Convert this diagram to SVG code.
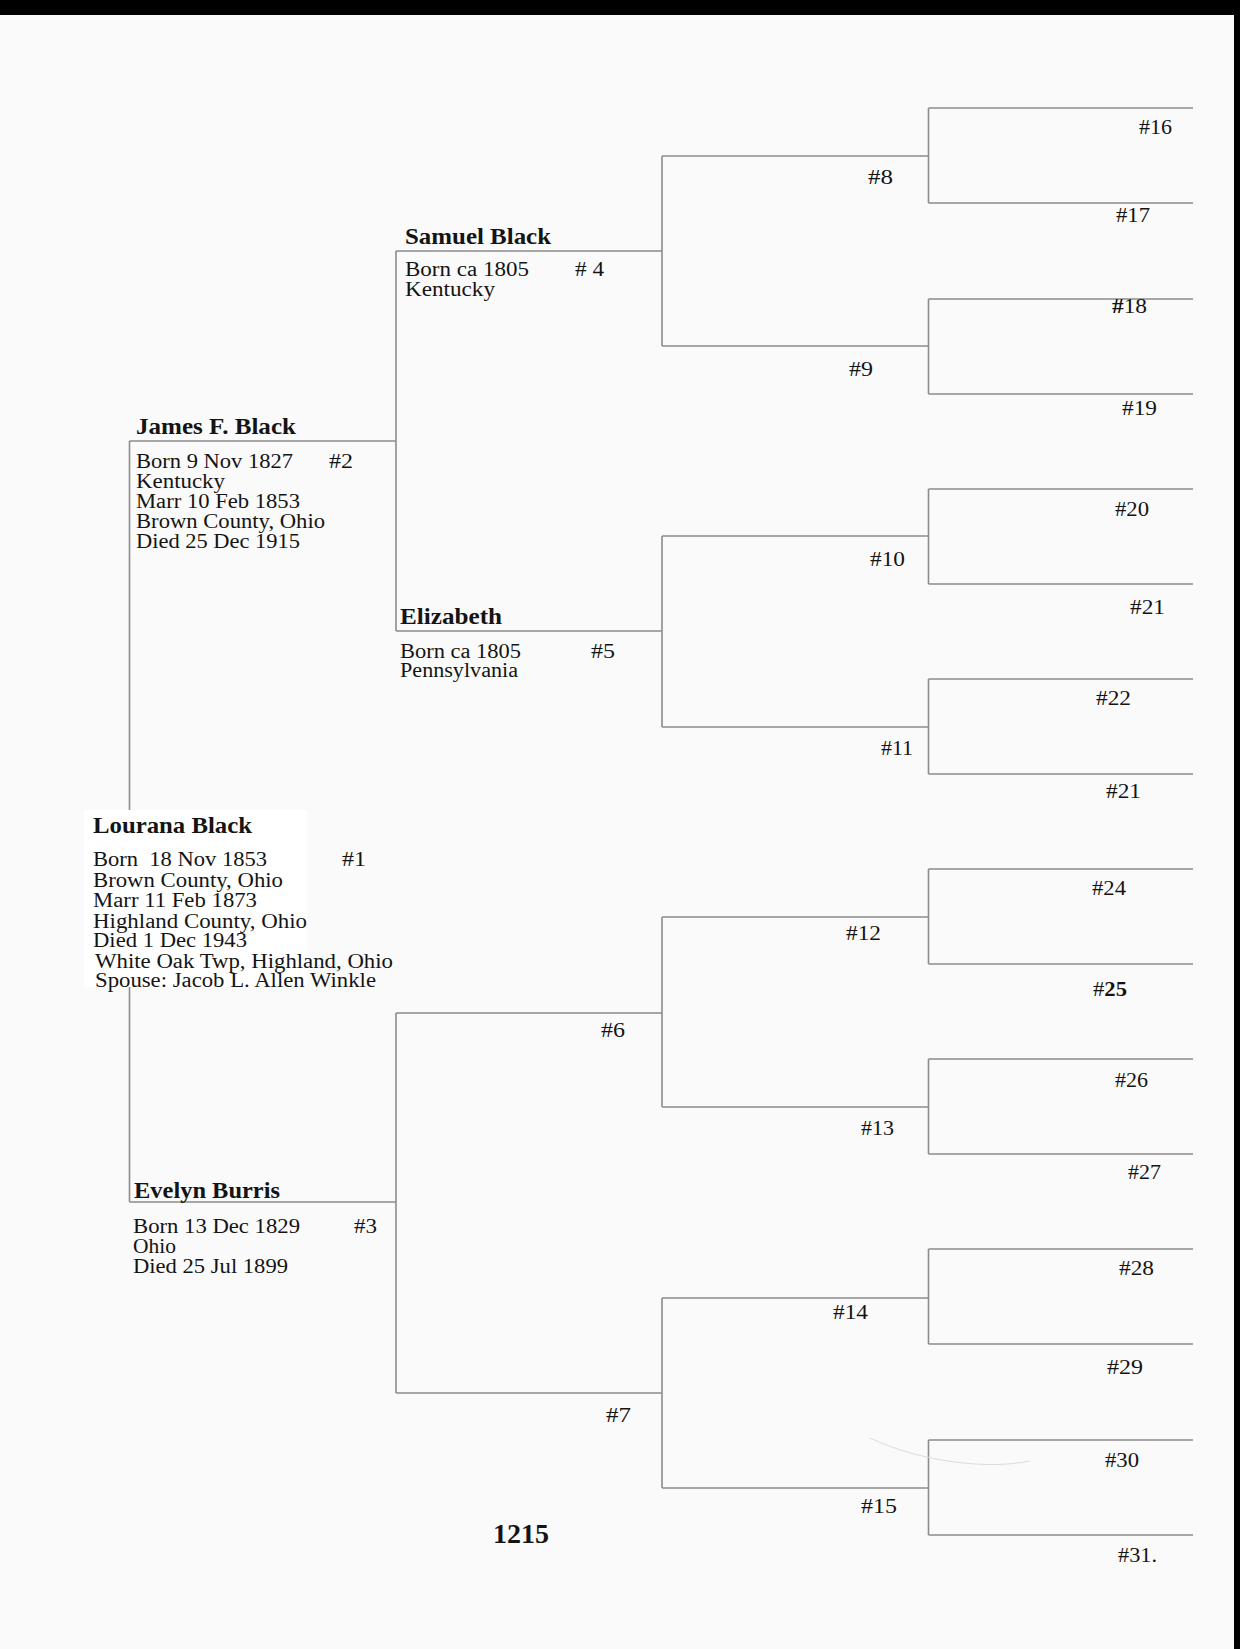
<svg xmlns="http://www.w3.org/2000/svg" width="1240" height="1649" viewBox="0 0 1240 1649">
<style>
text{font-family:"Liberation Serif","Times New Roman",serif;fill:#141414}
.nm{font-weight:bold;font-size:23px}
.bd{font-size:20px}
.lb{font-size:20px}
.ln{stroke:#8c8c8c;stroke-width:1.6;fill:none}
</style>
<rect x="0" y="0" width="1240" height="1649" fill="#fafafa"/>
<g id="connectors" class="ln">
<path d="M129.5,441V1202M129.5,441H396M129.5,1202H396"/>
<path d="M396,251V631M396,1013V1393M396,251H662M396,631H662M396,1013H662M396,1393H662"/>
<path d="M662,156V346M662,536V727M662,917V1107M662,1298V1488"/>
<path d="M662,156H928.5M662,346H928.5M662,536H928.5M662,727H928.5M662,917H928.5M662,1107H928.5M662,1298H928.5M662,1488H928.5"/>
<path d="M928.5,108V203M928.5,299V394M928.5,489V584M928.5,679V774M928.5,869V964M928.5,1059V1154M928.5,1249V1344M928.5,1440V1535"/>
<path d="M928.5,108H1193M928.5,203H1193M928.5,299H1193M928.5,394H1193M928.5,489H1193M928.5,584H1193M928.5,679H1193M928.5,774H1193M928.5,869H1193M928.5,964H1193M928.5,1059H1193M928.5,1154H1193M928.5,1249H1193M928.5,1344H1193M928.5,1440H1193M928.5,1535H1193"/>
</g>
<path d="M870,1438C895,1450 925,1458 955,1462S1010,1465 1030,1461" stroke="#dcdcdc" stroke-width="1" fill="none"/>
<g id="p1">
<rect x="84" y="810" width="223" height="177" fill="#ffffff"/>
<text class="nm" x="93" y="833" textLength="159" lengthAdjust="spacingAndGlyphs">Lourana Black</text>
<text class="bd" x="93" y="866" textLength="174" lengthAdjust="spacingAndGlyphs" xml:space="preserve">Born  18 Nov 1853</text>
<text class="lb" x="342" y="866" textLength="24" lengthAdjust="spacingAndGlyphs">#1</text>
<text class="bd" x="93" y="887" textLength="190" lengthAdjust="spacingAndGlyphs">Brown County, Ohio</text>
<text class="bd" x="93" y="907" textLength="164" lengthAdjust="spacingAndGlyphs">Marr 11 Feb 1873</text>
<text class="bd" x="93" y="928" textLength="214" lengthAdjust="spacingAndGlyphs">Highland County, Ohio</text>
<text class="bd" x="93" y="947" textLength="154" lengthAdjust="spacingAndGlyphs">Died 1 Dec 1943</text>
<text class="bd" x="95" y="968" textLength="298" lengthAdjust="spacingAndGlyphs">White Oak Twp, Highland, Ohio</text>
<text class="bd" x="95" y="987" textLength="281" lengthAdjust="spacingAndGlyphs">Spouse: Jacob L. Allen Winkle</text>
</g>
<g id="p2">
<text class="nm" x="136" y="434" textLength="160" lengthAdjust="spacingAndGlyphs">James F. Black</text>
<text class="bd" x="136" y="468" textLength="157" lengthAdjust="spacingAndGlyphs">Born 9 Nov 1827</text>
<text class="lb" x="329" y="468" textLength="24" lengthAdjust="spacingAndGlyphs">#2</text>
<text class="bd" x="136" y="488" textLength="89" lengthAdjust="spacingAndGlyphs">Kentucky</text>
<text class="bd" x="136" y="508" textLength="164" lengthAdjust="spacingAndGlyphs">Marr 10 Feb 1853</text>
<text class="bd" x="136" y="528" textLength="189" lengthAdjust="spacingAndGlyphs">Brown County, Ohio</text>
<text class="bd" x="136" y="548" textLength="164" lengthAdjust="spacingAndGlyphs">Died 25 Dec 1915</text>
</g>
<g id="p3">
<text class="nm" x="134" y="1198" textLength="146" lengthAdjust="spacingAndGlyphs">Evelyn Burris</text>
<text class="bd" x="133" y="1233" textLength="167" lengthAdjust="spacingAndGlyphs">Born 13 Dec 1829</text>
<text class="lb" x="354" y="1233" textLength="23" lengthAdjust="spacingAndGlyphs">#3</text>
<text class="bd" x="133" y="1253" textLength="43" lengthAdjust="spacingAndGlyphs">Ohio</text>
<text class="bd" x="133" y="1273" textLength="155" lengthAdjust="spacingAndGlyphs">Died 25 Jul 1899</text>
</g>
<g id="p4">
<text class="nm" x="405" y="244" textLength="146" lengthAdjust="spacingAndGlyphs">Samuel Black</text>
<text class="bd" x="405" y="276" textLength="124" lengthAdjust="spacingAndGlyphs">Born ca 1805</text>
<text class="lb" x="575" y="276" textLength="29" lengthAdjust="spacingAndGlyphs"># 4</text>
<text class="bd" x="405" y="296" textLength="90" lengthAdjust="spacingAndGlyphs">Kentucky</text>
</g>
<g id="p5">
<text class="nm" x="400" y="624" textLength="102" lengthAdjust="spacingAndGlyphs">Elizabeth</text>
<text class="bd" x="400" y="658" textLength="121" lengthAdjust="spacingAndGlyphs">Born ca 1805</text>
<text class="lb" x="591" y="658" textLength="24" lengthAdjust="spacingAndGlyphs">#5</text>
<text class="bd" x="400" y="677" textLength="118" lengthAdjust="spacingAndGlyphs">Pennsylvania</text>
</g>
<g id="p6"><text class="lb" x="601" y="1037" textLength="24" lengthAdjust="spacingAndGlyphs">#6</text></g>
<g id="p7"><text class="lb" x="606" y="1422" textLength="25" lengthAdjust="spacingAndGlyphs">#7</text></g>
<g id="p8"><text class="lb" x="868" y="184" textLength="25" lengthAdjust="spacingAndGlyphs">#8</text></g>
<g id="p9"><text class="lb" x="849" y="376" textLength="24" lengthAdjust="spacingAndGlyphs">#9</text></g>
<g id="p10"><text class="lb" x="870" y="566" textLength="35" lengthAdjust="spacingAndGlyphs">#10</text></g>
<g id="p11"><text class="lb" x="881" y="755" textLength="32" lengthAdjust="spacingAndGlyphs">#11</text></g>
<g id="p12"><text class="lb" x="846" y="940" textLength="35" lengthAdjust="spacingAndGlyphs">#12</text></g>
<g id="p13"><text class="lb" x="861" y="1135" textLength="33" lengthAdjust="spacingAndGlyphs">#13</text></g>
<g id="p14"><text class="lb" x="833" y="1319" textLength="35" lengthAdjust="spacingAndGlyphs">#14</text></g>
<g id="p15"><text class="lb" x="861" y="1513" textLength="36" lengthAdjust="spacingAndGlyphs">#15</text></g>
<g id="p16"><text class="lb" x="1139" y="134" textLength="33" lengthAdjust="spacingAndGlyphs">#16</text></g>
<g id="p17"><text class="lb" x="1116" y="222" textLength="34" lengthAdjust="spacingAndGlyphs">#17</text></g>
<g id="p18"><text class="lb" x="1112" y="313" textLength="35" lengthAdjust="spacingAndGlyphs"><tspan font-weight="bold">#</tspan>18</text></g>
<g id="p19"><text class="lb" x="1122" y="415" textLength="35" lengthAdjust="spacingAndGlyphs">#19</text></g>
<g id="p20"><text class="lb" x="1115" y="516" textLength="34" lengthAdjust="spacingAndGlyphs">#20</text></g>
<g id="p21"><text class="lb" x="1130" y="614" textLength="35" lengthAdjust="spacingAndGlyphs">#21</text></g>
<g id="p22"><text class="lb" x="1096" y="705" textLength="35" lengthAdjust="spacingAndGlyphs">#22</text></g>
<g id="p23"><text class="lb" x="1106" y="798" textLength="35" lengthAdjust="spacingAndGlyphs">#21</text></g>
<g id="p24"><text class="lb" x="1092" y="895" textLength="34" lengthAdjust="spacingAndGlyphs">#24</text></g>
<g id="p25"><text class="lb" x="1093" y="996" textLength="34" lengthAdjust="spacingAndGlyphs">#<tspan font-weight="bold">25</tspan></text></g>
<g id="p26"><text class="lb" x="1115" y="1087" textLength="33" lengthAdjust="spacingAndGlyphs">#26</text></g>
<g id="p27"><text class="lb" x="1128" y="1179" textLength="33" lengthAdjust="spacingAndGlyphs">#27</text></g>
<g id="p28"><text class="lb" x="1119" y="1275" textLength="35" lengthAdjust="spacingAndGlyphs">#28</text></g>
<g id="p29"><text class="lb" x="1107" y="1374" textLength="36" lengthAdjust="spacingAndGlyphs">#29</text></g>
<g id="p30"><text class="lb" x="1105" y="1467" textLength="34" lengthAdjust="spacingAndGlyphs">#30</text></g>
<g id="p31"><text class="lb" x="1118" y="1562" textLength="39" lengthAdjust="spacingAndGlyphs">#31.</text></g>
<text x="493" y="1543" font-weight="bold" font-size="27" textLength="56" lengthAdjust="spacingAndGlyphs">1215</text>
<rect x="0" y="0" width="1240" height="15" fill="#000"/>
<rect x="1234" y="0" width="6" height="1649" fill="#000"/>
</svg>
